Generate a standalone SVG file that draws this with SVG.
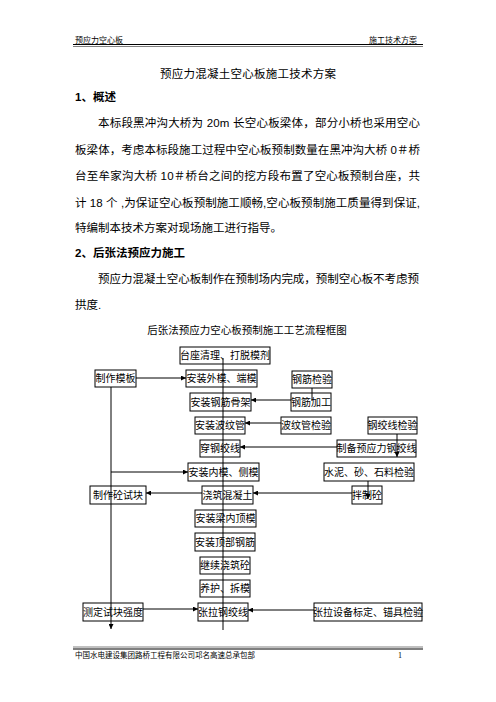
<svg xmlns="http://www.w3.org/2000/svg" width="496" height="702" viewBox="0 0 496 702">
<style>
.hf{font-family:"Liberation Serif","Noto Sans CJK SC",serif;font-size:8px;fill:#000}
.bt{font-family:"Liberation Sans","Noto Sans CJK SC",sans-serif;font-size:11.5px;fill:#000}
.hd{font-family:"Liberation Sans","Noto Sans CJK SC",sans-serif;font-size:11.5px;font-weight:bold;fill:#000}
.nb{fill:#fff;stroke:#000;stroke-width:1}
.nt{font-family:"Liberation Sans","Noto Sans CJK SC",sans-serif;font-size:10px;fill:#000;text-anchor:middle}
.cn{stroke:#000;stroke-width:1;fill:none}
.ca{stroke:#000;stroke-width:1;fill:none;marker-end:url(#ah)}
</style>
<defs>
<marker id="ah" viewBox="0 0 10 10" refX="10" refY="5" markerWidth="5" markerHeight="5" orient="auto" markerUnits="userSpaceOnUse">
<path d="M0,0 L10,5 L0,10 z" fill="#000"/>
</marker>
</defs>
<rect width="496" height="702" fill="#fff"/>
<g id="header">
<text class="hf" x="75" y="43">预应力空心板</text>
<text class="hf" x="417" y="43" text-anchor="end">施工技术方案</text>
<line x1="73" y1="44.5" x2="423" y2="44.5" stroke="#000" stroke-width="1.2"/>
<line x1="73" y1="46.5" x2="423" y2="46.5" stroke="#000" stroke-width="0.5"/>
</g>
<g id="body">
<text class="bt" x="248" y="78" text-anchor="middle" textLength="176">预应力混凝土空心板施工技术方案</text>
<text class="hd" x="75" y="101">1、概述</text>
<text class="bt" x="98" y="127" textLength="322">本标段黑冲沟大桥为 20m 长空心板梁体，部分小桥也采用空心</text>
<text class="bt" x="75" y="154" textLength="345">板梁体，考虑本标段施工过程中空心板预制数量在黑冲沟大桥 0＃桥</text>
<text class="bt" x="75" y="180" textLength="345">台至牟家沟大桥  10＃桥台之间的挖方段布置了空心板预制台座，共</text>
<text class="bt" x="75" y="207" textLength="345">计 18 个 ,为保证空心板预制施工顺畅,空心板预制施工质量得到保证,</text>
<text class="bt" x="75" y="232">特编制本技术方案对现场施工进行指导。</text>
<text class="hd" x="75" y="257">2、后张法预应力施工</text>
<text class="bt" x="98" y="283" textLength="321">预应力混凝土空心板制作在预制场内完成，预制空心板不考虑预</text>
<text class="bt" x="75" y="309">拱度.</text>
<text class="bt" x="247" y="334" text-anchor="middle" style="font-size:10.5px">后张法预应力空心板预制施工工艺流程框图</text>
</g>
<g id="nodes">
<g id="n1"><rect class="nb" x="180" y="347" width="90" height="17"/><text class="nt" x="225" y="359">台座清理、打脱模剂</text></g>
<g id="n2"><rect class="nb" x="95" y="370" width="41" height="17"/><text class="nt" x="115.5" y="382">制作模板</text></g>
<g id="n3"><rect class="nb" x="186" y="370" width="71" height="17"/><text class="nt" x="221.5" y="382">安装外模、端模</text></g>
<g id="n4"><rect class="nb" x="292" y="371" width="40" height="17"/><text class="nt" x="312" y="383">钢筋检验</text></g>
<g id="n5"><rect class="nb" x="190" y="393" width="61" height="18"/><text class="nt" x="220.5" y="406">安装钢筋骨架</text></g>
<g id="n6"><rect class="nb" x="291" y="393" width="40" height="18"/><text class="nt" x="311" y="406">钢筋加工</text></g>
<g id="n7"><rect class="nb" x="195" y="417" width="50" height="17"/><text class="nt" x="220" y="429">安装波纹管</text></g>
<g id="n8"><rect class="nb" x="281" y="417" width="50" height="17"/><text class="nt" x="306" y="429">波纹管检验</text></g>
<g id="n9"><rect class="nb" x="368" y="417" width="49" height="17"/><text class="nt" x="392.5" y="429">钢绞线检验</text></g>
<g id="n10"><rect class="nb" x="200" y="440" width="40" height="17"/><text class="nt" x="220" y="452">穿钢绞线</text></g>
<g id="n11"><rect class="nb" x="337" y="440" width="79" height="17"/><text class="nt" x="376.5" y="452">制备预应力钢绞线</text></g>
<g id="n12"><rect class="nb" x="188" y="463" width="71" height="18"/><text class="nt" x="223.5" y="476">安装内模、侧模</text></g>
<g id="n13"><rect class="nb" x="324" y="463" width="90" height="18"/><text class="nt" x="369" y="476">水泥、砂、石料检验</text></g>
<g id="n14"><rect class="nb" x="90" y="486" width="56" height="18"/><text class="nt" x="118" y="499">制作砼试块</text></g>
<g id="n15"><rect class="nb" x="202" y="486" width="51" height="18"/><text class="nt" x="227.5" y="499">浇筑混凝土</text></g>
<g id="n16"><rect class="nb" x="352" y="486" width="30" height="18"/><text class="nt" x="367" y="499">拌制砼</text></g>
<g id="n17"><rect class="nb" x="195" y="510" width="61" height="17"/><text class="nt" x="225.5" y="522">安装梁内顶模</text></g>
<g id="n18"><rect class="nb" x="195" y="533" width="60" height="18"/><text class="nt" x="225" y="546">安装顶部钢筋</text></g>
<g id="n19"><rect class="nb" x="200" y="557" width="50" height="17"/><text class="nt" x="225" y="569">继续浇筑砼</text></g>
<g id="n20"><rect class="nb" x="200" y="580" width="50" height="17"/><text class="nt" x="225" y="592">养护、拆模</text></g>
<g id="n21"><rect class="nb" x="83" y="603" width="60" height="18"/><text class="nt" x="113" y="616">测定试块强度</text></g>
<g id="n22"><rect class="nb" x="198" y="603" width="50" height="18"/><text class="nt" x="223" y="616">张拉钢绞线</text></g>
<g id="n23"><rect class="nb" x="314" y="603" width="108" height="18"/><text class="nt" x="368" y="616">张拉设备标定、锚具检验</text></g>
</g>
<g id="connectors">
<line class="cn" x1="223" y1="358" x2="223" y2="630"/>
<line class="ca" x1="111" y1="387" x2="111" y2="629"/>
<line class="ca" x1="136" y1="378" x2="186" y2="378"/>
<line class="cn" x1="312" y1="388" x2="312" y2="401"/>
<line class="ca" x1="291" y1="400" x2="251" y2="400"/>
<line class="ca" x1="281" y1="423" x2="245" y2="423"/>
<line class="ca" x1="397" y1="434" x2="397" y2="457"/>
<line class="ca" x1="337" y1="447" x2="240" y2="447"/>
<line class="ca" x1="111" y1="472" x2="188" y2="472"/>
<line class="ca" x1="368" y1="481" x2="368" y2="499"/>
<line class="ca" x1="352" y1="493" x2="253" y2="493"/>
<line class="ca" x1="202" y1="493" x2="146" y2="493"/>
<line class="ca" x1="143" y1="609" x2="198" y2="609"/>
<line class="ca" x1="314" y1="610" x2="248" y2="610"/>
</g>
<g id="footer">
<line x1="73" y1="647" x2="423" y2="647" stroke="#000" stroke-width="0.5"/>
<line x1="73" y1="649" x2="423" y2="649" stroke="#000" stroke-width="1.2"/>
<text class="hf" x="75" y="658" style="font-size:7.5px">中国水电建设集团路桥工程有限公司邛名高速总承包部</text>
<text class="hf" x="398" y="658">1</text>
</g>
</svg>
